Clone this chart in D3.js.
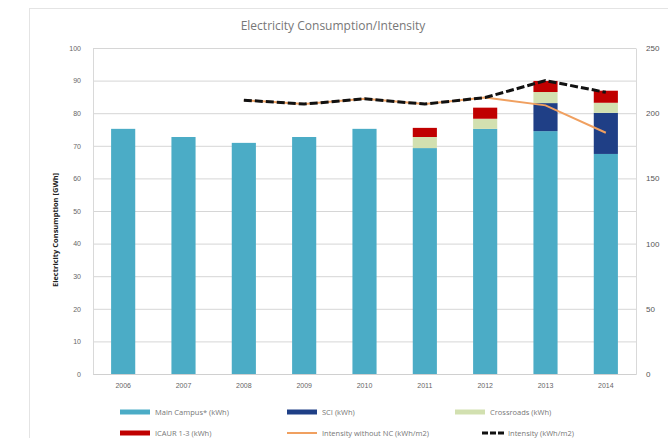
<!DOCTYPE html>
<html>
<head>
<meta charset="utf-8">
<script src="https://cdn.jsdelivr.net/npm/d3@7"></script>
<style>
  body { margin: 0; background: #fff; }
  svg { display: block; font-family: "Open Sans", "Liberation Sans", sans-serif; }
</style>
</head>
<body>
<div id="chart"></div>
<script>
// datos
const years = ['2006', '2007', '2008', '2009', '2010', '2011', '2012', '2013', '2014'];
const mainCampus = [75.2, 72.7, 70.9, 72.7, 75.2, 69.3, 75.2, 74.5, 67.5];
const sci = [0, 0, 0, 0, 0, 0, 0, 8.6, 12.6];
const crossroads = [0, 0, 0, 0, 0, 3.4, 3.1, 3.4, 3.1];
const icaur = [0, 0, 0, 0, 0, 2.8, 3.4, 3.4, 3.7];
const intensity = [null, null, 210, 207, 211, 207, 212, 225, 216];
const intensityNoNC = [null, null, 210, 207, 211, 207, 212, 206, 185];
const leftTicks = [0, 10, 20, 30, 40, 50, 60, 70, 80, 90, 100];
const rightTicks = [0, 50, 100, 150, 200, 250];

const seriesNames = ['Main Campus* (kWh)', 'SCI (kWh)', 'Crossroads (kWh)', 'ICAUR 1-3 (kWh)'];
const seriesColors = ['#4BACC6', '#1F3F86', '#D2E0B0', '#C00000'];

const width = 668, height = 438;
const margin = { top: 48, right: 32, bottom: 64, left: 93 };

const svg = d3.select('#chart').append('svg')
    .attr('width', width)
    .attr('height', height);

// marco exterior
svg.append('rect')
    .attr('x', 29.5).attr('y', 8.5)
    .attr('width', 640).attr('height', 440)
    .attr('fill', 'none')
    .attr('stroke', '#e4e4e4');

const x = d3.scaleBand().domain(years).range([margin.left, width - margin.right]).paddingInner(0.6).paddingOuter(0.3);
const yL = d3.scaleLinear().domain([0, 100]).range([374, margin.top]);
const yR = d3.scaleLinear().domain([0, 250]).range([374, margin.top]);

// rejilla
svg.append('g')
    .selectAll('line')
    .data(leftTicks)
    .enter()
    .append('line')
    .attr('x1', margin.left)
    .attr('x2', width - margin.right)
    .attr('y1', d => yL(d) + 0.5)
    .attr('y2', d => yL(d) + 0.5)
    .attr('stroke', '#d6d6d6')
    .attr('stroke-width', 1);

// eje izquierdo
const axL = svg.append('g')
    .attr('transform', `translate(${margin.left},0)`)
    .call(d3.axisLeft(yL).tickValues(leftTicks).tickSize(0).tickPadding(12));
axL.select('.domain').attr('stroke', '#d9d9d9');
axL.selectAll('text').attr('fill', '#666').attr('font-size', '7px');

// eje derecho
const axR = svg.append('g')
    .attr('transform', `translate(${width - margin.right},0)`)
    .call(d3.axisRight(yR).tickValues(rightTicks).tickSize(0).tickPadding(10));
axR.select('.domain').attr('stroke', '#d9d9d9');
axR.selectAll('text').attr('fill', '#555').attr('font-size', '8px');

// eje x
const axX = svg.append('g')
    .attr('transform', `translate(0,374)`)
    .call(d3.axisBottom(x).tickSize(0).tickPadding(9));
axX.select('.domain').attr('stroke', '#d0d0d0');
axX.selectAll('text').attr('fill', '#666').attr('font-size', '7px');

// barras apiladas
const rows = years.map((yr, i) => ({ year: yr, s0: mainCampus[i], s1: sci[i], s2: crossroads[i], s3: icaur[i] }));
const stack = d3.stack().keys(['s0', 's1', 's2', 's3'])(rows);

svg.append('g')
    .selectAll('g')
    .data(stack)
    .enter()
    .append('g')
    .attr('fill', (d, i) => seriesColors[i])
    .selectAll('rect')
    .data(d => d)
    .enter()
    .append('rect')
    .attr('x', d => x(d.data.year))
    .attr('width', x.bandwidth())
    .attr('y', d => yL(d[1]))
    .attr('height', d => yL(d[0]) - yL(d[1]));

// líneas de intensidad
const lineGen = d3.line()
    .defined(d => d.v !== null)
    .x(d => x(d.year) + x.bandwidth() / 2)
    .y(d => yR(d.v));

svg.append('path')
    .datum(years.map((yr, i) => ({ year: yr, v: intensityNoNC[i] })))
    .attr('d', lineGen)
    .attr('fill', 'none')
    .attr('stroke', '#F0A060')
    .attr('stroke-width', 2);

svg.append('path')
    .datum(years.map((yr, i) => ({ year: yr, v: intensity[i] })))
    .attr('d', lineGen)
    .attr('fill', 'none')
    .attr('stroke', '#111')
    .attr('stroke-width', 3)
    .attr('stroke-dasharray', '8,3');

// título
svg.append('text')
    .attr('x', 333)
    .attr('y', 30)
    .attr('text-anchor', 'middle')
    .attr('font-size', '12px')
    .attr('fill', '#777')
    .text('Electricity Consumption/Intensity');

// título eje y
svg.append('text')
    .attr('transform', 'translate(58,230) rotate(-90)')
    .attr('text-anchor', 'middle')
    .attr('font-size', '7.5px')
    .attr('font-weight', 'bold')
    .attr('fill', '#222')
    .text('Electricity Consumption [GWh]');

// leyenda
const legendItems = [
    { name: seriesNames[0], color: seriesColors[0], type: 'bar', x: 120, y: 412 },
    { name: seriesNames[1], color: seriesColors[1], type: 'bar', x: 287, y: 412 },
    { name: seriesNames[2], color: seriesColors[2], type: 'bar', x: 455, y: 412 },
    { name: seriesNames[3], color: seriesColors[3], type: 'bar', x: 120, y: 433 },
    { name: 'Intensity without NC (kWh/m2)', color: '#F0A060', type: 'line', x: 287, y: 433 },
    { name: 'Intensity (kWh/m2)', color: '#111', type: 'dash', x: 482, y: 433 }
];

const leg = svg.append('g')
    .selectAll('g')
    .data(legendItems)
    .enter()
    .append('g')
    .attr('transform', d => `translate(${d.x},${d.y})`);

leg.append('line')
    .attr('x1', 0)
    .attr('x2', d => d.type === 'dash' ? 22 : 30)
    .attr('y1', 0).attr('y2', 0)
    .attr('stroke', d => d.color)
    .attr('stroke-width', d => d.type === 'bar' ? 5 : (d.type === 'dash' ? 3 : 2))
    .attr('stroke-dasharray', d => d.type === 'dash' ? '6,2' : null);

leg.append('text')
    .attr('x', d => d.type === 'dash' ? 26 : 35)
    .attr('y', 3)
    .attr('font-size', '7.5px')
    .attr('fill', '#777')
    .text(d => d.name);
</script>
</body>
</html>
